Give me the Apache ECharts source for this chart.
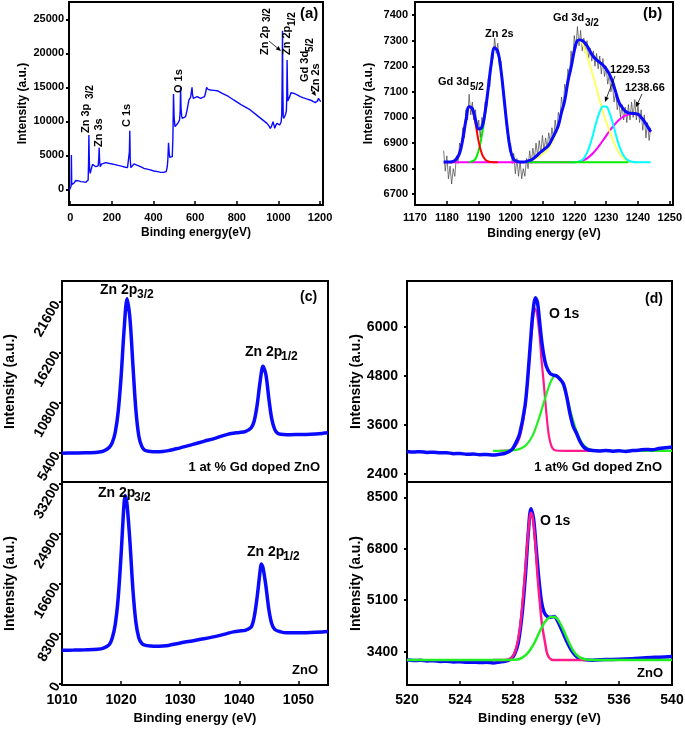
<!DOCTYPE html>
<html><head><meta charset="utf-8">
<script src="https://cdn.jsdelivr.net/npm/echarts@6/dist/echarts.min.js"></script>
<style>html,body{margin:0;padding:0;background:#fff}#c{width:685px;height:730px}</style>
</head><body><div id="c"></div>
<script>
// ---------------- DATA ----------------
// (a) survey spectrum [binding energy, intensity]
const surveyA = [[-5,-150],[0,100],[4,450],[5.5,5050],[7,700],[10,550],[13,700],[17,900],[22,1130],[27,1300],[32,1370],[40,1250],[51,1130],[63,1100],[75,1030],[83,1100],[86,1370],[88,4000],[89.5,7990],[91,5200],[93,2900],[96,2350],[101,3000],[107,3680],[115,3500],[123,3330],[130,3380],[134,3450],[137,4500],[139,6130],[141,4200],[144,3330],[150,3700],[155,3970],[170,3920],[190,3800],[211,3680],[230,3520],[250,3380],[265,3250],[275,3190],[281,3150],[284,5500],[286,8630],[288,4500],[291,3200],[294,3150],[300,3450],[306,3730],[320,3550],[340,3300],[354,3090],[380,2900],[402,2700],[420,2600],[434,2500],[450,2520],[461,2600],[466,3330],[469,4500],[472,6860],[475,5400],[478,4700],[482,4560],[486,4700],[490,4800],[493,7500],[496,14020],[499,10500],[503,9220],[508,9400],[514,9600],[520,9900],[525,10200],[528,11500],[530,15000],[532,12000],[535,10800],[538,10440],[545,10500],[554,10690],[562,11800],[570,13140],[578,13500],[583,13700],[585,15000],[587,14000],[591,13380],[600,13500],[610,13630],[618,13500],[626,13380],[635,13450],[645,13630],[650,14200],[655,15000],[658,15200],[662,14700],[674,14600],[690,14550],[706,14500],[730,14100],[760,13650],[785,13140],[820,12450],[865,11670],[900,10800],[945,9700],[955,9300],[961,8970],[967,9300],[974,9950],[979,9400],[982,8970],[987,9400],[993,9700],[1000,9600],[1006,9460],[1010,9700],[1013,9950],[1016,11000],[1018,17000],[1019.5,23330],[1021,15000],[1023,10800],[1025,10440],[1029,10600],[1033,10930],[1038,11500],[1040,13500],[1041.5,19020],[1043,16000],[1045,13000],[1049,13140],[1055,13700],[1060,14200],[1065,14460],[1075,14100],[1090,13900],[1105,13630],[1120,13450],[1135,13300],[1152,13140],[1165,12950],[1176,12750],[1182,12700],[1188,13000],[1192,13380],[1195,13630],[1198,13100],[1203,12890]];

// (b) Gd 3d / Zn 2s region
const rawB = [[1179,6870],[1179.5,6790],[1180,6850],[1180.5,6760],[1181,6810],[1181.5,6740],[1182,6800],[1182.5,6770],[1183,6850],[1183.5,6820],[1184,6900],[1184.5,6870],[1185,6960],[1185.5,6920],[1186,7030],[1186.5,6990],[1187,7090],[1187.5,7010],[1188,7060],[1188.5,6990],[1189,7030],[1189.5,6940],[1190,6990],[1190.5,6920],[1191,7000],[1191.5,6960],[1192,7060],[1192.5,7040],[1193,7150],[1193.5,7120],[1194,7250],[1194.5,7230],[1195,7310],[1195.5,7250],[1196,7290],[1196.5,7200],[1197,7220],[1197.5,7100],[1198,7090],[1198.5,6990],[1199,6990],[1199.5,6890],[1200,6900],[1200.5,6820],[1201,6860],[1201.5,6780],[1202,6840],[1202.5,6770],[1203,6830],[1203.5,6760],[1204,6800],[1204.5,6770],[1205,6840],[1205.5,6800],[1206,6870],[1206.5,6820],[1207,6880],[1207.5,6840],[1208,6900],[1208.5,6850],[1209,6910],[1209.5,6860],[1210,6930],[1210.5,6870],[1211,6920],[1211.5,6880],[1212,6940],[1212.5,6900],[1213,6960],[1213.5,6910],[1214,6990],[1214.5,6940],[1215,7020],[1215.5,6990],[1216,7080],[1216.5,7030],[1217,7130],[1217.5,7090],[1218,7190],[1218.5,7160],[1219,7260],[1219.5,7210],[1220,7320],[1220.5,7270],[1221,7355],[1221.5,7280],[1222,7340],[1222.5,7260],[1223,7310],[1223.5,7250],[1224,7300],[1224.5,7230],[1225,7270],[1225.5,7220],[1226,7260],[1226.5,7200],[1227,7250],[1227.5,7190],[1228,7240],[1228.5,7170],[1229,7230],[1229.5,7160],[1230,7200],[1230.5,7130],[1231,7170],[1231.5,7100],[1232,7130],[1232.5,7060],[1233,7100],[1233.5,7030],[1234,7070],[1234.5,7000],[1235,7050],[1235.5,6990],[1236,7040],[1236.5,6980],[1237,7050],[1237.5,6990],[1238,7060],[1238.5,7000],[1239,7070],[1239.5,6990],[1240,7050],[1240.5,6980],[1241,7030],[1241.5,6950],[1242,7010],[1242.5,6920],[1243,6980],[1243.5,6910],[1244,6960]];
const envelopeB = [[1179,6826],[1180,6826],[1181,6826],[1182,6828],[1183,6838],[1184,6860],[1185,6915],[1186,6990],[1187,7042],[1188,7035],[1189,6990],[1190,6955],[1191,6962],[1192,7020],[1193,7115],[1194,7215],[1195,7272],[1196,7258],[1197,7185],[1198,7070],[1199,6955],[1200,6870],[1201,6836],[1202,6828],[1203,6826],[1204,6826],[1205,6828],[1206,6832],[1207,6838],[1208,6848],[1209,6860],[1210,6870],[1211,6880],[1212,6892],[1213,6915],[1214,6940],[1215,6968],[1216,7020],[1217,7065],[1218,7140],[1219,7195],[1220,7260],[1221,7300],[1222,7303],[1223,7295],[1224,7280],[1225,7258],[1226,7238],[1227,7225],[1228,7215],[1229,7205],[1230,7190],[1231,7170],[1232,7140],[1233,7100],[1234,7060],[1235,7040],[1236,7025],[1237,7018],[1238,7016],[1239,7015],[1240,7013],[1241,7000],[1242,6985],[1243,6965],[1244,6945]];
const gd52B = [[1181,6825],[1182,6827],[1183,6836],[1184,6862],[1185,6918],[1186,6992],[1187,7043],[1188,7030],[1189,6975],[1190,6905],[1191,6858],[1192,6836],[1193,6828],[1194,6826],[1196,6825]];
const zn2sB = [[1187,6826],[1188,6829],[1189,6838],[1190,6872],[1191,6930],[1192,7012],[1193,7110],[1194,7212],[1195,7270],[1196,7256],[1197,7183],[1198,7068],[1199,6953],[1200,6869],[1201,6836],[1202,6828],[1203,6826],[1210,6825],[1237,6825]];
const gd32B = [[1205,6826],[1208,6840],[1210,6856],[1212,6880],[1214,6930],[1216,7012],[1218,7130],[1219,7190],[1220,7255],[1221,7298],[1222,7298],[1223,7275],[1224,7240],[1225,7200],[1226,7158],[1227,7112],[1228,7065],[1229,7020],[1230,6985],[1231,6950],[1232,6915],[1233,6885],[1234,6862],[1235,6846],[1236,6836],[1237,6829],[1238,6826],[1240,6825]];
const p1229B = [[1219,6825],[1221,6826],[1222,6830],[1223,6840],[1224,6862],[1225,6895],[1226,6938],[1227,6985],[1228,7022],[1229,7043],[1230,7043],[1231,7020],[1232,6982],[1233,6935],[1234,6893],[1235,6862],[1236,6842],[1237,6832],[1238,6827],[1240,6825],[1244,6825]];
const p1238B = [[1179,6825],[1190,6825],[1200,6825],[1210,6825],[1220,6825],[1222,6828],[1223,6833],[1224,6840],[1225,6850],[1226,6862],[1227,6876],[1228,6893],[1229,6910],[1230,6928],[1231,6946],[1232,6962],[1233,6977],[1234,6990],[1235,7000],[1236,7007],[1237,7011],[1238,7013],[1239,7013],[1240,7010],[1241,7000],[1242,6985],[1243,6965],[1244,6942]];

// (c) Zn 2p
const zn2pDoped = [[1010,5380],[1012,5400],[1014,5420],[1016,5480],[1017,5600],[1018,6000],[1018.5,6500],[1019,7600],[1019.5,9800],[1020,13600],[1020.5,18600],[1021,21950],[1021.5,19800],[1022,14800],[1022.5,10000],[1023,7200],[1023.5,6100],[1024,5700],[1025,5550],[1026,5520],[1027,5550],[1028,5650],[1029,5800],[1030,5950],[1032,6300],[1034,6650],[1036,7000],[1038,7400],[1039,7520],[1040,7600],[1041,7700],[1042,8100],[1042.5,8800],[1043,10500],[1043.5,13000],[1044,14700],[1044.5,13800],[1045,11200],[1045.5,9000],[1046,7900],[1046.5,7500],[1047,7400],[1048,7350],[1050,7380],[1052,7420],[1054,7500],[1055,7560]];
const zn2pZnO = [[1010,5550],[1012,5580],[1014,5620],[1016,5700],[1017,5900],[1018,6500],[1018.5,7600],[1019,9800],[1019.5,14200],[1020,21500],[1020.5,30000],[1020.7,31300],[1021,29800],[1021.5,23500],[1022,15600],[1022.5,10200],[1023,7600],[1023.5,6700],[1024,6400],[1025,6250],[1026,6200],[1027,6250],[1028,6350],[1030,6750],[1032,7100],[1034,7450],[1036,7850],[1038,8350],[1039,8600],[1040,8750],[1041,8850],[1042,9400],[1042.5,11000],[1043,14300],[1043.5,18600],[1043.7,19900],[1044,19300],[1044.5,16200],[1045,12300],[1045.5,9900],[1046,9000],[1047,8600],[1048,8450],[1050,8450],[1052,8500],[1054,8600],[1055,8680]];

// (d) O 1s
const o1sDoped = [[520,2950],[520.5,2935],[521,2945],[521.5,2925],[522,2930],[522.5,2915],[523,2920],[523.5,2895],[524,2900],[524.5,2880],[525,2885],[525.5,2870],[526,2875],[526.5,2860],[527,2880],[527.4,2900],[527.9,2990],[528.2,3150],[528.5,3380],[528.9,4050],[529.1,4700],[529.3,5550],[529.5,6350],[529.7,6720],[529.85,6600],[530,6160],[530.15,5700],[530.3,5350],[530.5,5050],[530.8,4860],[531.05,4820],[531.3,4800],[531.55,4720],[531.8,4610],[532.05,4300],[532.3,3880],[532.55,3560],[532.8,3390],[533.05,3200],[533.3,3070],[533.6,3000],[534,2970],[534.5,2960],[535,2975],[535.5,2955],[536,2965],[536.5,2950],[537,2970],[537.5,2980],[538,3000],[538.5,2990],[539,3020],[539.5,3040],[540,3060]];
const latticeODoped = [[527,2966],[527.5,2968],[528,3010],[528.5,3300],[528.9,4000],[529.2,5100],[529.45,6000],[529.65,6450],[529.8,6350],[530,5800],[530.15,5200],[530.3,4700],[530.5,3950],[530.7,3350],[530.9,3080],[531.1,2990],[531.4,2967],[532,2965],[534,2965]];
const defectODoped = [[526.5,2965],[527,2966],[527.5,2968],[528,2978],[528.5,3010],[529,3110],[529.5,3350],[530,3800],[530.4,4230],[530.8,4620],[531.2,4820],[531.6,4710],[532,4350],[532.4,3860],[532.8,3440],[533.2,3160],[533.6,3030],[534,2985],[534.5,2968],[535,2965],[540,2965]];
const o1sZnO = [[520,3125],[520.5,3110],[521,3115],[521.5,3095],[522,3100],[522.5,3080],[523,3085],[523.5,3060],[524,3070],[524.5,3050],[525,3055],[525.5,3040],[526,3050],[526.5,3030],[527,3060],[527.4,3080],[527.8,3150],[528.1,3300],[528.4,3700],[528.7,4700],[528.95,6000],[529.15,7300],[529.35,8120],[529.55,7800],[529.75,6800],[529.95,5800],[530.15,5050],[530.35,4700],[530.6,4560],[530.85,4540],[531.1,4560],[531.35,4430],[531.6,4200],[531.85,3950],[532.1,3700],[532.4,3450],[532.7,3280],[533,3180],[533.5,3130],[534,3120],[535,3140],[536,3150],[537,3170],[538,3200],[539,3220],[540,3240]];
const latticeOZnO = [[526.5,3125],[527,3126],[527.5,3135],[527.9,3200],[528.2,3450],[528.5,4100],[528.8,5400],[529.05,6800],[529.25,7800],[529.35,7990],[529.5,7800],[529.7,6900],[529.85,5900],[530.05,4900],[530.2,4250],[530.4,3750],[530.55,3380],[530.7,3220],[530.9,3140],[531.1,3127],[532,3125],[533.5,3125]];
const defectOZnO = [[520,3125],[527.5,3126],[528,3130],[528.5,3160],[529,3300],[529.5,3600],[530,4050],[530.4,4380],[530.8,4540],[531.1,4557],[531.4,4450],[531.8,4120],[532.2,3720],[532.6,3400],[533,3220],[533.5,3140],[534,3127],[540,3125]];

// tick values
const ticksAx = [0,200,400,600,800,1000,1200];
const ticksAy = [0,5000,10000,15000,20000,25000];
const ticksBx = [1170,1180,1190,1200,1210,1220,1230,1240,1250];
const ticksBy = [6700,6800,6900,7000,7100,7200,7300,7400];
const ticksCx = [1010,1020,1030,1040,1050];
const ticksCyDoped = [5400,10800,16200,21600];
const ticksCyZnO = [0,8300,16600,24900,33200];
const ticksDx = [520,524,528,532,536,540];
const ticksDyDoped = [2400,3600,4800,6000];
const ticksDyZnO = [3400,5100,6800,8500];

// ---------------- CHART ----------------
const FONT = '"Liberation Sans", Arial, Helvetica, sans-serif';
const BLUE = '#0a0aff', PINK = '#ff1a8c', GREEN = '#22ee22';
const chart = echarts.init(document.getElementById('c'), null, {renderer:'canvas'});
const plain = v => String(v);

const grids = [
  {left:69, top:2, width:254, height:203},
  {left:415, top:2, width:258, height:203},
  {left:62, top:281, width:266, height:201},
  {left:62, top:482, width:266, height:203},
  {left:407, top:281, width:265, height:201},
  {left:407, top:482, width:265, height:203}
].map(g => Object.assign(g, {show:true, borderColor:'#000', borderWidth:2, containLabel:false, outerBoundsMode:'none'}));

function xAx(gi, min, max, ticks, fs, showLab, name, nameGap, nameFs, margin) {
  return {gridIndex:gi, type:'value', min, max, position:'bottom',
    axisLine:{show:false, onZero:false}, splitLine:{show:false},
    axisTick:{show:showLab, inside:true, length:4, lineStyle:{color:'#000', width:1.5}, customValues:ticks},
    axisLabel:{show:showLab, customValues:ticks, formatter:plain, fontSize:fs, fontWeight:'bold', fontFamily:FONT, color:'#000', margin:margin},
    name:name, nameLocation:'middle', nameGap:nameGap,
    nameTextStyle:{fontSize:nameFs, fontWeight:'bold', fontFamily:FONT, color:'#000'}};
}
function yAx(gi, min, max, ticks, fs, rot, name, nameGap, nameFs, margin) {
  return {gridIndex:gi, type:'value', min, max, position:'left',
    axisLine:{show:false, onZero:false}, splitLine:{show:false},
    axisTick:{show:true, inside:false, length:3, lineStyle:{color:'#000', width:2}, customValues:ticks},
    axisLabel:{customValues:ticks, formatter:plain, fontSize:fs, fontWeight:'bold', fontFamily:FONT, color:'#000', rotate:rot, margin:margin},
    name:name, nameLocation:'middle', nameGap:nameGap, nameRotate:90,
    nameTextStyle:{fontSize:nameFs, fontWeight:'bold', fontFamily:FONT, color:'#000'}};
}

const xAxes = [
  xAx(0, -6, 1214, ticksAx, 11, true, 'Binding energy(eV)', 22, 12, 7),
  xAx(1, 1170, 1251, ticksBx, 11, true, 'Binding energy (eV)', 23, 12, 7),
  xAx(2, 1010, 1055, ticksCx, 14, false, '', 10, 13, 8),
  xAx(3, 1010, 1055, ticksCx, 14, true, 'Binding energy (eV)', 27, 13, 8),
  xAx(4, 520, 540, ticksDx, 14, false, '', 10, 13, 8),
  xAx(5, 520, 540, ticksDx, 14, true, 'Binding energy (eV)', 27, 13, 8)
];
const yAxes = [
  yAx(0, -2300, 27540, ticksAy, 11, 0, 'Intensity (a.u.)', 40, 12, 5),
  yAx(1, 6658, 7451, ticksBy, 11, 0, 'Intensity (a.u.)', 40, 12, 7),
  yAx(2, 2280, 23870, ticksCyDoped, 14, 60, 'Intensity (a.u.)', 45, 14, 5),
  yAx(3, -230, 33530, ticksCyZnO, 14, 60, 'Intensity (a.u.)', 45, 14, 5),
  yAx(4, 2200, 7130, ticksDyDoped, 14, 0, 'Intensity (a.u.)', 44, 14, 9),
  yAx(5, 2300, 9005, ticksDyZnO, 14, 0, 'Intensity (a.u.)', 44, 14, 9)
];

function ln(gi, data, color, width, smooth, z) {
  return {type:'line', xAxisIndex:gi, yAxisIndex:gi, data, symbol:'none', showSymbol:false,
    smooth: smooth, silent:true, animation:false, z: z||2, clip:true,
    lineStyle:{color, width}, itemStyle:{color}};
}

const series = [
  ln(0, surveyA, BLUE, 1.4, false),
  ln(1, rawB, '#444', 0.7, false, 1),
  ln(1, p1238B, '#ff00ff', 2, 0.4, 2),
  ln(1, gd32B, '#ffff66', 2, 0.4, 2),
  ln(1, p1229B, '#00ffff', 2, 0.4, 2),
  ln(1, zn2sB, '#00ee00', 2, 0.4, 2),
  ln(1, gd52B, '#ff0000', 2, 0.4, 2),
  ln(1, envelopeB, BLUE, 3, 0.4, 3),
  ln(2, zn2pDoped, BLUE, 3.5, 0.3),
  ln(3, zn2pZnO, BLUE, 3.5, 0.3),
  ln(4, latticeODoped, PINK, 2.2, 0.3, 2),
  ln(4, defectODoped, GREEN, 2.2, 0.3, 2),
  ln(4, o1sDoped, BLUE, 3.5, 0.3, 3),
  ln(5, o1sZnO, BLUE, 3.5, 0.3, 2),
  ln(5, latticeOZnO, PINK, 2.5, 0.3, 3),
  ln(5, defectOZnO, GREEN, 2.5, 0.3, 3)
];

// ---------------- ANNOTATIONS ----------------
function T(x, y, s, size, align) {
  return {type:'text', x, y, silent:true, z:100,
    style:{text:s, fontSize:size, fontWeight:'bold', fontFamily:FONT, fill:'#000', align:align||'left', verticalAlign:'middle'}};
}
function R(x, y, s, size) {
  return {type:'text', x, y, rotation:Math.PI/2, silent:true, z:100,
    style:{text:s, fontSize:size, fontWeight:'bold', fontFamily:FONT, fill:'#000', align:'left', verticalAlign:'middle'}};
}
function arrow(x1, y1, x2, y2) {
  const a = Math.atan2(y2-y1, x2-x1), L = 5, W = 2.2;
  const bx = x2 - L*Math.cos(a), by = y2 - L*Math.sin(a);
  return [
    {type:'line', silent:true, z:100, shape:{x1, y1, x2:bx, y2:by}, style:{stroke:'#000', lineWidth:0.8}},
    {type:'polygon', silent:true, z:100, shape:{points:[[x2,y2],[bx - W*Math.sin(a), by + W*Math.cos(a)],[bx + W*Math.sin(a), by - W*Math.cos(a)]]}, style:{fill:'#000'}}
  ];
}

const graphics = [
  // (a)
  T(300, 14, '(a)', 15),
  R(86, 133, 'Zn 3p', 11), R(90, 99, '3/2', 10),
  R(99, 147, 'Zn 3s', 11),
  R(127, 127, 'C 1s', 11),
  R(179, 93, 'O 1s', 11),
  R(265, 55, 'Zn 2p', 11), R(267, 22, '3/2', 10),
  R(287, 55, 'Zn 2p', 11), R(292, 26, '1/2', 10),
  R(305, 82, 'Gd 3d', 11), R(310, 52, '5/2', 10),
  R(316, 92, 'Zn 2s', 11),
  ...arrow(269, 41, 281, 51),
  ...arrow(311, 89, 316, 96),
  // (b)
  T(643, 14, '(b)', 15),
  T(438, 82, 'Gd 3d', 11), T(470, 87, '5/2', 10),
  T(485, 34, 'Zn 2s', 11),
  T(553, 18, 'Gd 3d', 11), T(585, 23, '3/2', 10),
  T(610, 70, '1229.53', 11),
  T(625, 88, '1238.66', 11),
  ...arrow(615, 76, 605, 102),
  ...arrow(642, 94, 636, 107),
  // (c)
  T(300, 297, '(c)', 14),
  T(100, 290, 'Zn 2p', 14), T(137, 295, '3/2', 12),
  T(245, 352, 'Zn 2p', 14), T(281, 357, '1/2', 12),
  T(320, 467, '1 at % Gd doped ZnO', 13, 'right'),
  T(98, 493, 'Zn 2p', 14), T(134, 498, '3/2', 12),
  T(247, 552, 'Zn 2p', 14), T(283, 557, '1/2', 12),
  T(318, 670, 'ZnO', 13, 'right'),
  // (d)
  T(645, 299, '(d)', 14),
  T(549, 314, 'O 1s', 14),
  T(662, 467, '1 at% Gd doped ZnO', 13, 'right'),
  T(540, 521, 'O 1s', 14),
  T(663, 673, 'ZnO', 13, 'right')
];

chart.setOption({
  backgroundColor:'#fff',
  animation:false,
  grid: grids,
  xAxis: xAxes,
  yAxis: yAxes,
  series: series,
  graphic: graphics
});
</script></body></html>
